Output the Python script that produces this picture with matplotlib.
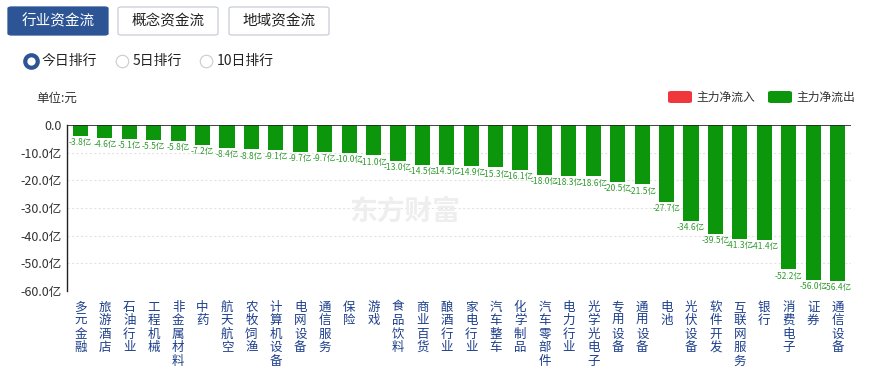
import matplotlib
matplotlib.use("Agg")
import matplotlib.pyplot as plt
from matplotlib.patches import FancyBboxPatch
import numpy as np

plt.rcParams['font.family'] = ['Noto Sans CJK SC', 'DejaVu Sans']

categories = ['多元金融', '旅游酒店', '石油行业', '工程机械', '非金属材料', '中药', '航天航空',
              '农牧饲渔', '计算机设备', '电网设备', '通信服务', '保险', '游戏', '食品饮料',
              '商业百货', '酿酒行业', '家电行业', '汽车整车', '化学制品', '汽车零部件',
              '电力行业', '光学光电子', '专用设备', '通用设备', '电池', '光伏设备',
              '软件开发', '互联网服务', '银行', '消费电子', '证券', '通信设备']
values = [-3.8, -4.6, -5.1, -5.5, -5.8, -7.2, -8.4, -8.8, -9.1, -9.7, -9.7, -10.0,
          -11.0, -13.0, -14.5, -14.5, -14.9, -15.3, -16.1, -18.0, -18.3, -18.6,
          -20.5, -21.5, -27.7, -34.6, -39.5, -41.3, -41.4, -52.2, -56.0, -56.4]
yticks = [0, -10, -20, -30, -40, -50, -60]
tabs = ['行业资金流', '概念资金流', '地域资金流']
radios = ['今日排行', '5日排行', '10日排行']

W, H = 873, 367
fig = plt.figure(figsize=(W / 100, H / 100), dpi=100)

green = '#0b960b'
blue = '#2d5596'

def fx(px):
    return px / W

def fy(py):
    return 1 - py / H

# tab buttons
tab_x = [8, 118, 229]
for i, (t, x0) in enumerate(zip(tabs, tab_x)):
    filled = i == 0
    box = FancyBboxPatch((fx(x0), fy(35)), fx(100), 28 / H,
                         boxstyle='round,pad=0,rounding_size=0.004',
                         transform=fig.transFigure,
                         facecolor=blue if filled else 'white',
                         edgecolor=blue if filled else '#c8cfd8', lw=0.9)
    fig.patches.append(box)
    fig.text(fx(x0 + 50), fy(21), t, ha='center', va='center', fontsize=10.5,
             color='white' if filled else '#222222')

# radio buttons
radio_x = [31, 122, 206]
for i, (t, x0) in enumerate(zip(radios, radio_x)):
    if i == 0:
        fig.lines.append(plt.Line2D([fx(x0)], [fy(61)], marker='o', ms=9,
                                    mfc='white', mec=blue, mew=3.0,
                                    transform=fig.transFigure))
    else:
        fig.lines.append(plt.Line2D([fx(x0)], [fy(61)], marker='o', ms=9,
                                    mfc='white', mec='#cccccc', mew=0.8,
                                    transform=fig.transFigure))
    fig.text(fx(x0 + 11), fy(61), t, ha='left', va='center', fontsize=10,
             color='#222222')

fig.text(fx(36), fy(98), '单位:元', ha='left', va='center', fontsize=9, color='#333333')

# legend
for x0, c, t in [(668, '#f0373c', '主力净流入'), (768, '#0b960b', '主力净流出')]:
    fig.patches.append(FancyBboxPatch((fx(x0), fy(103)), fx(24), 12 / H,
                                      boxstyle='round,pad=0,rounding_size=0.004',
                                      transform=fig.transFigure, facecolor=c,
                                      edgecolor='none'))
    fig.text(fx(x0 + 28), fy(97), t, ha='left', va='center', fontsize=8.5,
             color='#333333')

ax = fig.add_axes([fx(67), fy(291), fx(851 - 67), (291 - 125) / H])
x = np.arange(len(categories))
ax.bar(x, values, width=0.62, color=green, zorder=3)
for xi, v in zip(x, values):
    ax.text(xi, v - 0.8, f'{v:.1f}亿', ha='center', va='top', fontsize=6.1,
            color='#2f9a2f', zorder=4)

ax.set_xlim(-0.55, len(categories) - 0.45)
ax.set_ylim(-60, 0)
ax.set_yticks(yticks)
ax.set_yticklabels(['0.0'] + [f'{v:.1f}亿' for v in yticks[1:]], fontsize=9,
                   color='#333333')
for v in yticks[1:]:
    ax.axhline(v, color='#e3e3e3', lw=0.8, ls=(0, (2, 2)), zorder=1)
ax.axhline(0, color='#222222', lw=1.2, zorder=5)
ax.set_xticks(x)
ax.set_xticklabels(['\n'.join(c) for c in categories], fontsize=9, color='#1d3f8c',
                   linespacing=1.05, va='top')
ax.tick_params(axis='both', length=0, pad=4)
ax.tick_params(axis='x', pad=7)
for s in ['top', 'right', 'bottom']:
    ax.spines[s].set_visible(False)
ax.spines['left'].set_color('#222222')
ax.spines['left'].set_linewidth(1.0)

# watermark
fig.text(fx(405), fy(212), '东方财富', ha='center', va='center', fontsize=20,
         color='#eeeeee', fontweight='bold', zorder=0)

fig.savefig('out.png', dpi=100)
